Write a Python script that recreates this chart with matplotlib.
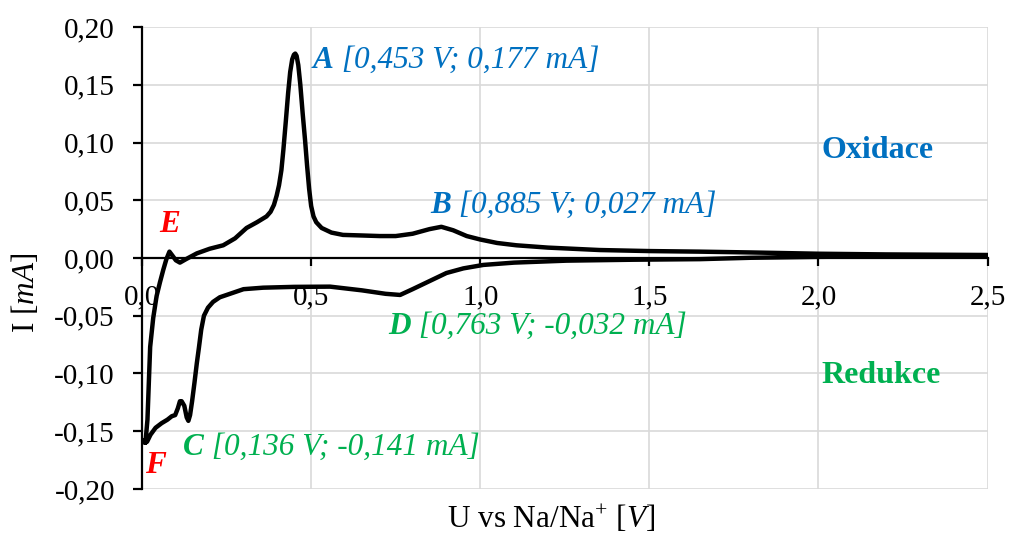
import matplotlib
matplotlib.use('Agg')
import matplotlib.pyplot as plt
from matplotlib.ticker import FuncFormatter

plt.rcParams['font.family'] = 'Liberation Serif'
plt.rcParams['mathtext.fontset'] = 'custom'
plt.rcParams['mathtext.rm'] = 'Liberation Serif'
plt.rcParams['mathtext.it'] = 'Liberation Serif:italic'

# anodic sweep (from the lower vertex up to 2.5 V)
ox_u = [0.005, 0.010, 0.016, 0.024, 0.033, 0.043, 0.053, 0.063, 0.072, 0.081, 0.090,
        0.100, 0.112, 0.130, 0.162, 0.200, 0.240, 0.275, 0.309, 0.340, 0.368, 0.380,
        0.390, 0.398, 0.405, 0.412, 0.418, 0.425, 0.432, 0.438, 0.444, 0.449, 0.453,
        0.457, 0.462, 0.468, 0.475, 0.482, 0.488, 0.494, 0.500, 0.507, 0.515, 0.531,
        0.560, 0.594, 0.650, 0.703, 0.750, 0.800, 0.850, 0.885, 0.920, 0.960, 1.000,
        1.050, 1.107, 1.200, 1.353, 1.500, 1.649, 1.800, 2.000, 2.200, 2.500]
ox_i = [-0.158, -0.160, -0.140, -0.077, -0.052, -0.033, -0.021, -0.010, -0.001, 0.0055, 0.002,
        -0.002, -0.004, -0.001, 0.004, 0.008, 0.011, 0.017, 0.026, 0.031, 0.036, 0.040,
        0.046, 0.054, 0.063, 0.076, 0.094, 0.118, 0.143, 0.161, 0.172, 0.176, 0.177,
        0.175, 0.167, 0.150, 0.125, 0.102, 0.080, 0.060, 0.045, 0.036, 0.031, 0.026,
        0.022, 0.020, 0.0195, 0.019, 0.019, 0.021, 0.025, 0.027, 0.024, 0.019, 0.016,
        0.013, 0.011, 0.009, 0.0069, 0.006, 0.0055, 0.0048, 0.0037, 0.0031, 0.0026]

# cathodic sweep (from 2.5 V back down to the vertex)
red_u = [2.500, 2.200, 2.000, 1.800, 1.649, 1.450, 1.255, 1.100, 1.009, 0.950, 0.900,
         0.850, 0.800, 0.763, 0.720, 0.650, 0.556, 0.450, 0.358, 0.300, 0.260, 0.230,
         0.210, 0.195, 0.183, 0.175, 0.168, 0.162, 0.155, 0.148, 0.142, 0.137, 0.132,
         0.125, 0.117, 0.112, 0.106, 0.098, 0.088, 0.075, 0.058, 0.040, 0.025, 0.015,
         0.008, 0.005]
red_i = [0.0018, 0.0014, 0.0010, 0.0002, -0.001, -0.0015, -0.0023, -0.004, -0.006, -0.009, -0.013,
         -0.020, -0.027, -0.032, -0.031, -0.028, -0.0248, -0.025, -0.0257, -0.027, -0.031, -0.034,
         -0.038, -0.043, -0.050, -0.062, -0.078, -0.091, -0.108, -0.124, -0.136, -0.141, -0.138,
         -0.128, -0.124, -0.124, -0.130, -0.136, -0.137, -0.140, -0.143, -0.147, -0.153, -0.159,
         -0.160, -0.158]

u_ticks = [0.0, 0.5, 1.0, 1.5, 2.0, 2.5]
i_ticks = [-0.20, -0.15, -0.10, -0.05, 0.00, 0.05, 0.10, 0.15, 0.20]

BLUE = '#0070C0'
GREEN = '#00B050'
RED = '#FF0000'

fig = plt.figure(figsize=(10.11, 5.38), dpi=100)
ax = fig.add_axes([0.1405, 0.0911, 0.8363, 0.8587])

ax.plot(ox_u + red_u, ox_i + red_i, color='black', lw=3.2,
        solid_joinstyle='round', solid_capstyle='round', zorder=3)

ax.set_xlim(0, 2.5)
ax.set_ylim(-0.2, 0.2)
ax.set_xticks(u_ticks)
ax.set_yticks(i_ticks)
ax.xaxis.set_major_formatter(FuncFormatter(lambda v, p: f'{v:.1f}'.replace('.', ',')))
ax.yaxis.set_major_formatter(FuncFormatter(lambda v, p: f'{v:.2f}'.replace('.', ',')))
ax.grid(True, color='#d9d9d9', lw=1.2, zorder=0)
ax.set_axisbelow(True)

for s in ['top', 'right']:
    ax.spines[s].set_visible(False)
ax.spines['bottom'].set_position(('data', 0))
ax.spines['bottom'].set_linewidth(1.6)
ax.spines['left'].set_linewidth(1.6)
ax.tick_params(axis='y', direction='out', length=6.5, width=1.6, pad=13, labelsize=21)
ax.tick_params(axis='x', direction='out', length=6, width=1.6, pad=13, labelsize=21)


def label(x, y, head, rest, color, size=22.5):
    t = ax.text(x, y, head, color=color, fontsize=size, fontweight='bold',
                fontstyle='italic', va='baseline', ha='left', zorder=4)
    if rest:
        ax.annotate(rest, xy=(1, 0), xycoords=t, va='bottom', ha='left',
                    color=color, fontsize=size, fontstyle='italic', zorder=4)


label(0.505, 0.1645, 'A', ' [0,453 V; 0,177 mA]', BLUE)
label(0.851, 0.039, 'B', ' [0,885 V; 0,027 mA]', BLUE)
label(0.121, -0.1706, 'C', ' [0,136 V; -0,141 mA]', GREEN)
label(0.727, -0.066, 'D', ' [0,763 V; -0,032 mA]', GREEN)
label(0.05, 0.0225, 'E', '', RED)
label(0.009, -0.186, 'F', '', RED)

ax.text(2.009, 0.0866, 'Oxidace', color=BLUE, fontsize=23, fontweight='bold', va='baseline')
ax.text(2.009, -0.108, 'Redukce', color=GREEN, fontsize=23, fontweight='bold', va='baseline')

fig.text(0.025, 0.455, r'I $\mathit{[mA]}$', rotation=90, fontsize=22.5,
         ha='center', va='center')
fig.text(0.545, 0.035, r'U vs Na/Na$^{+}$ $\mathit{[V]}$', fontsize=22.5,
         ha='center', va='center')

fig.savefig('out.png', dpi=100)
plt.close(fig)
